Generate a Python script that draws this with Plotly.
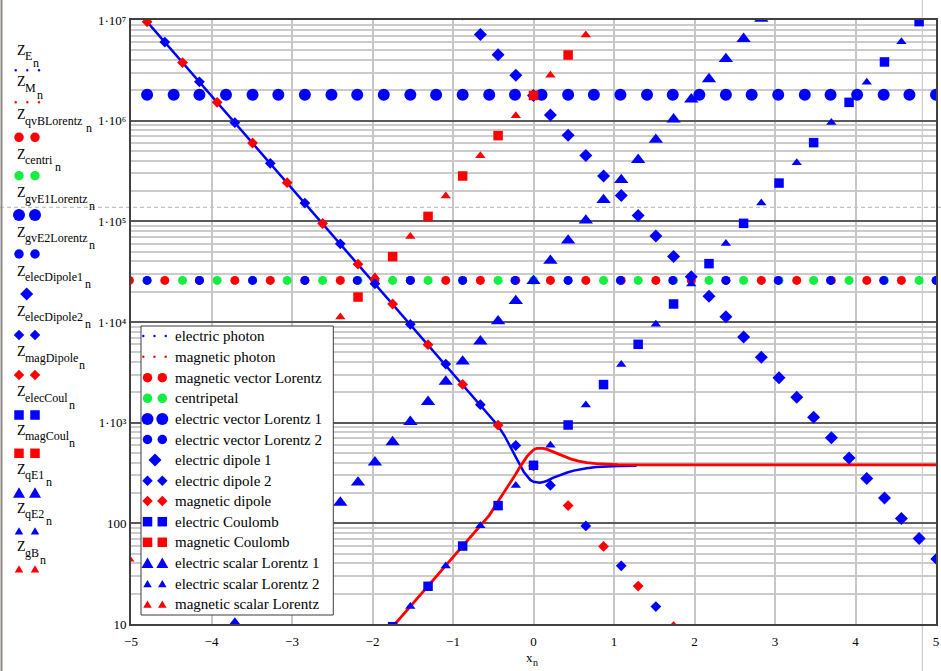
import plotly.graph_objects as go

# ---------------- data: Z-values (log scale) against x_n ----------------
# photon curves (dense samples)
x_photon_E = [-5.02, -0.66, -0.54, -0.44, -0.36, -0.29, -0.22, -0.165, -0.12, -0.08, -0.04, 0.0,
              0.04, 0.08, 0.12, 0.17, 0.24, 0.33, 0.42, 0.50, 0.58, 0.66, 0.78, 0.91, 1.05, 1.28]
Z_E = [1.53e7, 1507, 1148, 933, 741, 575, 457, 376, 324, 292, 270, 259,
       254, 253, 257, 265, 283, 303, 320, 334, 345, 353, 363, 369, 372, 374]

x_photon_M = [-1.78, -1.16, -0.87, -0.66, -0.55, -0.455, -0.37, -0.29, -0.22, -0.165, -0.12, -0.08,
              -0.04, 0.0, 0.04, 0.08, 0.12, 0.17, 0.23, 0.29, 0.37, 0.46, 0.56, 0.66, 0.78, 0.91,
              1.05, 1.24, 5.0]
Z_M = [8.8, 32.7, 60.3, 94.0, 120, 158, 200, 251, 309, 366, 417, 462,
       501, 537, 556, 558, 555, 543, 519, 498, 462, 437, 415, 401, 392, 386,
       383, 380, 380]

# constant-level markers
x_qvBLorentz = [-5.02, -4.58, -4.15, -3.71, -3.27, -2.84, -2.40, -1.97, -1.53, -1.09, -0.66, -0.22,
                0.21, 0.65, 1.09, 1.52, 1.96, 2.39, 2.83, 3.27, 3.70, 4.14, 4.57, 5.01]
Z_qvBLorentz = [2.59e4] * len(x_qvBLorentz)

x_centri = [-4.80, -4.36, -3.93, -3.49, -3.06, -2.62, -2.18, -1.75, -1.31, -0.88, -0.44, 0.00,
            0.43, 0.87, 1.30, 1.74, 2.18, 2.61, 3.05, 3.48, 3.92, 4.36, 4.79]
Z_centri = [2.59e4] * len(x_centri)

x_gvE1Lorentz = [-4.80, -4.47, -4.15, -3.82, -3.49, -3.17, -2.84, -2.51, -2.19, -1.86, -1.53,
                 -1.21, -0.88, -0.55, -0.23, 0.10, 0.43, 0.75, 1.08, 1.41, 1.73, 2.06, 2.39,
                 2.71, 3.04, 3.37, 3.69, 4.02, 4.35, 4.67, 5.00]
Z_gvE1Lorentz = [1.81e6] * len(x_gvE1Lorentz)

x_gvE2Lorentz = [-4.80, -4.15, -3.49, -2.84, -2.19, -1.53, -0.88, -0.23, 0.43, 1.08, 1.73, 2.39,
                 3.04, 3.69, 4.35, 5.00]
Z_gvE2Lorentz = [2.59e4] * len(x_gvE2Lorentz)

# dipoles
x_elecDipole1 = [-0.88, -0.66, -0.44, -0.22, 0.00, 0.21, 0.43, 0.65, 0.87, 1.09, 1.30, 1.52, 1.74,
                 1.96, 2.18, 2.39, 2.61, 2.83, 3.05, 3.27, 3.48, 3.70, 3.92, 4.14, 4.36, 4.57,
                 4.79, 5.01]
Z_elecDipole1 = [1.15e7, 7.19e6, 4.51e6, 2.83e6, 1.78e6, 1.14e6, 7.16e5, 4.50e5, 2.82e5, 1.81e5,
                 1.14e5, 7.13e4, 4.48e4, 2.81e4, 1.80e4, 1.13e4, 7.10e3, 4.46e3, 2.80e3, 1.79e3,
                 1.13e3, 708, 445, 279, 179, 112, 70.5, 44.3]

x_elecDipole2 = [-4.58, -4.15, -3.71, -3.27, -2.84, -2.40, -1.97, -1.53, -1.09, -0.66, -0.22, 0.21,
                 0.65, 1.09, 1.52]
Z_elecDipole2 = [6.03e6, 2.43e6, 9.55e5, 3.77e5, 1.52e5, 5.98e4, 2.40e4, 9.48e3, 3.82e3, 1.51e3,
                 593, 239, 94.2, 37.8, 14.9]

x_magDipole = [-4.80, -4.36, -3.93, -3.49, -3.06, -2.62, -2.18, -1.75, -1.31, -0.88, -0.44, 0.00,
               0.43, 0.87, 1.30, 1.74]
Z_magDipole = [9.60e6, 3.78e6, 1.52e6, 6.00e5, 2.42e5, 9.52e4, 3.75e4, 1.51e4, 5.96e3, 2.40e3,
               944, 372, 150, 59.0, 23.8, 9.4]

# Coulomb
x_elecCoul = [-1.75, -1.31, -0.88, -0.44, 0.00, 0.43, 0.87, 1.30, 1.74, 2.18, 2.61, 3.05, 3.48,
              3.92, 4.36, 4.79]
Z_elecCoul = [9.41, 23.7, 59.5, 150, 377, 948, 2.39e3, 6.00e3, 1.51e4, 3.80e4, 9.55e4, 2.40e5,
              6.05e5, 1.52e6, 3.83e6, 9.64e6]

x_magCoul = [-4.80, -4.36, -3.93, -3.49, -3.06, -2.62, -2.18, -1.75, -1.31, -0.88, -0.44, 0.00, 0.43]
Z_magCoul = [69.8, 175, 442, 1.11e3, 2.80e3, 7.03e3, 1.77e4, 4.46e4, 1.12e5, 2.82e5, 7.10e5,
             1.78e6, 4.49e6]

# scalar Lorentz
x_qE1 = [-3.71, -3.49, -3.27, -3.06, -2.84, -2.62, -2.40, -2.18, -1.97, -1.75, -1.53, -1.31, -1.09,
         -0.88, -0.66, -0.44, -0.22, 0.00, 0.21, 0.43, 0.65, 0.87, 1.09, 1.30, 1.52, 1.74, 1.96,
         2.18, 2.39, 2.61, 2.83]
Z_qE1 = [10.1, 16.0, 25.4, 40.3, 63.8, 101, 161, 255, 404, 641, 1.02e3, 1.61e3, 2.56e3, 4.06e3,
         6.43e3, 1.02e4, 1.62e4, 2.56e4, 4.07e4, 6.46e4, 1.02e5, 1.63e5, 2.58e5, 4.08e5, 6.48e5,
         1.03e6, 1.63e6, 2.59e6, 4.10e6, 6.50e6, 1.03e7]

x_qE2 = [-1.53, -1.09, -0.66, -0.22, 0.21, 0.65, 1.09, 1.52, 1.96, 2.39, 2.83, 3.27, 3.70, 4.14, 4.57]
Z_qE2 = [14.9, 37.6, 94.4, 238, 598, 1.50e3, 3.78e3, 9.52e3, 2.39e4, 6.03e4, 1.52e5, 3.81e5,
         9.59e5, 2.41e6, 6.08e6]

x_gB = [-5.02, -4.58, -4.15, -3.71, -3.27, -2.84, -2.40, -1.97, -1.53, -1.09, -0.66, -0.22, 0.21, 0.65]
Z_gB = [44.0, 111, 279, 701, 1.76e3, 4.44e3, 1.12e4, 2.81e4, 7.06e4, 1.78e5, 4.47e5, 1.12e6,
        2.83e6, 7.11e6]

# axis ticks
x_ticks = [-5, -4, -3, -2, -1, 0, 1, 2, 3, 4, 5]
y_ticks = [10, 100, 1e3, 1e4, 1e5, 1e6, 1e7]
y_ticktext = ["10", "100", "1·10³", "1·10⁴", "1·10⁵", "1·10⁶", "1·10⁷"]
y_minor = [m * 10 ** e for e in range(1, 7) for m in range(2, 10)]

# trace names (legend text) and variable names (left margin labels)
names = ["electric photon", "magnetic photon", "magnetic vector Lorentz", "centripetal",
         "electric vector Lorentz 1", "electric vector Lorentz 2", "electric dipole 1",
         "electric dipole 2", "magnetic dipole", "electric Coulomb", "magnetic Coulomb",
         "electric scalar Lorentz 1", "electric scalar Lorentz 2", "magnetic scalar Lorentz"]
var_subs = ["E", "M", "qvBLorentz", "centri", "gvE1Lorentz", "gvE2Lorentz", "elecDipole1",
            "elecDipole2", "magDipole", "elecCoul", "magCoul", "qE1", "qE2", "gB"]

# ---------------- styling ----------------
BLUE, RED, GREEN = "#0000ff", "#ff0000", "#14ee40"
SERIF = "Liberation Serif"

W, H = 941, 671
ML, MR, MT, MB = 131, 5, 20, 47
PW, PH = W - ML - MR, H - MT - MB


def px(xp):
    return (xp - ML) / PW


def py(yp):
    return (H - MB - yp) / PH


fig = go.Figure()

fig.add_trace(go.Scatter(x=x_photon_E, y=Z_E, mode="lines", name=names[0],
                         line=dict(color=BLUE, width=2.5)))
fig.add_trace(go.Scatter(x=x_photon_M, y=Z_M, mode="lines", name=names[1],
                         line=dict(color=RED, width=2.8)))

marker_series = [
    (x_qvBLorentz, Z_qvBLorentz, "circle", 9, RED, names[2]),
    (x_centri, Z_centri, "circle", 9, GREEN, names[3]),
    (x_gvE1Lorentz, Z_gvE1Lorentz, "circle", 12, BLUE, names[4]),
    (x_gvE2Lorentz, Z_gvE2Lorentz, "circle", 9, BLUE, names[5]),
    (x_elecDipole1, Z_elecDipole1, "diamond", 10, BLUE, names[6]),
    (x_elecDipole2, Z_elecDipole2, "diamond", 8.3, BLUE, names[7]),
    (x_magDipole, Z_magDipole, "diamond", 8.3, RED, names[8]),
    (x_elecCoul, Z_elecCoul, "square", 9.5, BLUE, names[9]),
    (x_magCoul, Z_magCoul, "square", 9.5, RED, names[10]),
    (x_qE1, Z_qE1, "triangle-up", 12.5, BLUE, names[11]),
    (x_qE2, Z_qE2, "triangle-up", 9, BLUE, names[12]),
    (x_gB, Z_gB, "triangle-up", 9, RED, names[13]),
]
for xs, ys, sym, size, col, nm in marker_series:
    fig.add_trace(go.Scatter(x=xs, y=ys, mode="markers", name=nm,
                             marker=dict(symbol=sym, size=size, color=col, line=dict(width=0))))

# ---------------- hand-drawn legend and margin labels ----------------
shapes = []
annotations = []


def circ(cx, cy, d, color):
    return dict(type="circle", xref="paper", yref="paper",
                x0=px(cx - d / 2), x1=px(cx + d / 2), y0=py(cy + d / 2), y1=py(cy - d / 2),
                fillcolor=color, line=dict(width=0))


def poly(pts, color):
    path = "M " + " L ".join(f"{px(a):.5f},{py(b):.5f}" for a, b in pts) + " Z"
    return dict(type="path", xref="paper", yref="paper", path=path,
                fillcolor=color, line=dict(width=0))


def glyph(kind, color, size, cx, cy):
    h = size / 2
    if kind == "circle":
        return circ(cx, cy, size, color)
    if kind == "diamond":
        return poly([(cx, cy - h), (cx + h, cy), (cx, cy + h), (cx - h, cy)], color)
    if kind == "square":
        return poly([(cx - h, cy - h), (cx + h, cy - h), (cx + h, cy + h), (cx - h, cy + h)], color)
    # triangle
    return poly([(cx, cy - size * 0.45), (cx + h, cy + size * 0.42), (cx - h, cy + size * 0.42)], color)


def label(xp, yp, text, size, anchor="left"):
    return dict(xref="paper", yref="paper", x=px(xp), y=py(yp), text=text, showarrow=False,
                xanchor=anchor, yanchor="middle", font=dict(family=SERIF, size=size, color="black"))


# (kind, color, size, count) for each entry
samples = [("circle", BLUE, 2.4, 3), ("circle", RED, 2.4, 3), ("circle", RED, 9.5, 2),
           ("circle", GREEN, 9.5, 2), ("circle", BLUE, 12, 2), ("circle", BLUE, 9.5, 2),
           ("diamond", BLUE, 13, 1), ("diamond", BLUE, 10.5, 2), ("diamond", RED, 10.5, 2),
           ("square", BLUE, 9.5, 2), ("square", RED, 9.5, 2), ("tri", BLUE, 12, 2),
           ("tri", BLUE, 8.5, 2), ("tri", RED, 8.5, 2)]

# page decorations
shapes.append(dict(type="line", xref="paper", yref="paper", x0=px(0), x1=px(W),
                   y0=py(207.3), y1=py(207.3), layer="below",
                   line=dict(color="#b4b4b4", width=1, dash="4px,3px")))
shapes.append(dict(type="line", xref="paper", yref="paper", x0=px(922.3), x1=px(922.3),
                   y0=py(0), y1=py(H), layer="below", line=dict(color="#c4c4c4", width=1)))
shapes.append(dict(type="line", xref="paper", yref="paper", x0=px(1.5), x1=px(1.5),
                   y0=py(0), y1=py(H), line=dict(color="#8f8a84", width=2)))

# legend box inside the plot
shapes.append(dict(type="rect", xref="paper", yref="paper", x0=px(141), x1=px(333.3),
                   y0=py(615), y1=py(326), fillcolor="white",
                   line=dict(color="#3c3c3c", width=1)))
row_y = [336, 356.7, 377.7, 398.3, 419, 439.5, 460, 480.7, 501, 521.7, 542.3, 563, 583.7, 604.3]
for (kind, col, size, n), nm, ry in zip(samples, names, row_y):
    if n == 3:
        xs = [143.3, 154.5, 165.7]
    elif n == 2:
        xs = [147.5, 162.3]
    else:
        xs = [155]
    for cx in xs:
        shapes.append(glyph(kind, col, size, cx, ry))
    annotations.append(label(172.5, ry, nm, 15))

# variable labels in the left margin
z_y = [50, 81.7, 115, 154, 193, 232, 271, 311, 351.7, 391.7, 430, 469.3, 508.3, 546.7]
n_x = [32, 36, 85, 53.5, 88, 88, 83.5, 84, 78, 68, 68, 44.5, 44.5, 39]
mk_y = [70.3, 102.3, 137.3, 175.7, 215, 254, 294, 335, 375, 415, 453.3, 492.7, 531, 569]
for (kind, col, size, n), sub, zy, nx, my in zip(samples, var_subs, z_y, n_x, mk_y):
    annotations.append(label(14.5, zy, "Z", 14))
    annotations.append(label(23, zy + 6, sub, 12))
    annotations.append(label(nx - 1, zy + 13, "n", 12))
    if n == 3:
        xs = [15.7, 27.3, 39]
    elif n == 2:
        xs = [19, 35]
    else:
        xs = [26.7]
    for cx in xs:
        shapes.append(glyph(kind, col, size, cx, my))

# axis title x_n
annotations.append(label(535, 657, "x", 13, anchor="right"))
annotations.append(label(531, 662, "n", 10))

fig.update_layout(
    width=W, height=H,
    margin=dict(l=ML, r=MR, t=MT, b=MB, pad=0, autoexpand=False),
    paper_bgcolor="white", plot_bgcolor="white",
    showlegend=False,
    font=dict(family=SERIF, color="black"),
    shapes=shapes, annotations=annotations,
    xaxis=dict(range=[-5, 5], tickmode="array", tickvals=x_ticks, showgrid=True,
               gridcolor="#c6c6c6", gridwidth=1.5, zeroline=False, showline=True, mirror=True,
               linecolor="#404040", linewidth=2, ticks="", automargin=False,
               ticklabelstandoff=4,
               tickfont=dict(family=SERIF, size=13, color="black")),
    yaxis=dict(type="log", range=[1, 7], tickmode="array", tickvals=y_ticks,
               ticktext=y_ticktext, showgrid=True, gridcolor="#5a5a5a", gridwidth=1.5,
               minor=dict(tickmode="array", tickvals=y_minor, showgrid=True,
                          gridcolor="#cbcbcb", gridwidth=1.5, ticks=""),
               zeroline=False, showline=True, mirror=True, linecolor="#404040", linewidth=2,
               ticks="", automargin=False,
               tickfont=dict(family=SERIF, size=13, color="black")),
)

fig.write_html("out.html")
